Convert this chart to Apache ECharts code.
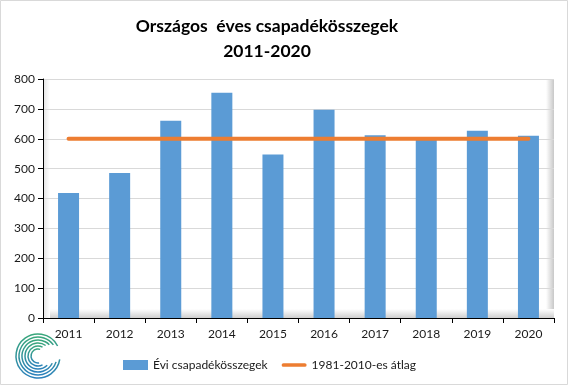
<!DOCTYPE html>
<html><head><meta charset="utf-8">
<script src="https://cdn.jsdelivr.net/npm/echarts@6/dist/echarts.min.js"></script>
<style>html,body{margin:0;padding:0;background:#fff}#c{width:569px;height:386px}</style>
</head><body><div id="c"></div>
<script>
const categories = ['2011','2012','2013','2014','2015','2016','2017','2018','2019','2020'];
const annualTotals = [418, 485, 660, 754, 547, 697, 612, 598, 627, 610];
const averageValues = [600, 600, 600, 600, 600, 600, 600, 600, 600, 600];
const seriesNames = ['Évi csapadékösszegek', '1981-2010-es átlag'];
const titleLines = ['Országos  éves csapadékösszegek', '2011-2020'];

const FONT = 'Lato, "Open Sans", sans-serif';
const chart = echarts.init(document.getElementById('c'));

function arc(r, s, e, w){
  return {type:'arc', z:10, shape:{cx:38, cy:356, r:r, startAngle:s, endAngle:e, clockwise:true},
    style:{fill:null, lineWidth:w,
      stroke:new echarts.graphic.LinearGradient(0,0,0,1,[{offset:0,color:'#3aa977'},{offset:1,color:'#2b7fc0'}])}};
}

chart.setOption({
  animation:false,
  title:{text:titleLines.join('\n'), left:262, textAlign:'center', top:9,
    textStyle:{fontFamily:FONT, fontSize:17.5, fontWeight:'bold', color:'#000', lineHeight:25}},
  grid:{left:43, right:15, top:79, bottom:68},
  legend:{left:118, top:354, itemGap:14, itemWidth:25, itemHeight:10,
    textStyle:{fontFamily:FONT, fontSize:12, color:'#1a1a1a'},
    data:[{name:seriesNames[0], icon:'rect'},
          {name:seriesNames[1], icon:'path://M2,0 L25,0 A2,2 0 0 1 25,4 L2,4 A2,2 0 0 1 2,0 Z'}]},
  graphic:[
    {type:'rect', z:-10, shape:{x:0.5,y:0.5,width:567,height:384}, style:{fill:'#fff', stroke:'#d9d9d9', lineWidth:1}},
    {type:'rect', z:-5, shape:{x:546,y:79,width:8,height:239},
      style:{fill:new echarts.graphic.LinearGradient(0,0,1,0,[{offset:0,color:'#ffffff'},{offset:1,color:'#c8c8c8'}])}},
    {type:'rect', z:-5, shape:{x:43,y:309,width:511,height:9},
      style:{fill:new echarts.graphic.LinearGradient(0,0,0,1,[{offset:0,color:'#ffffff'},{offset:1,color:'#cfcfcf'}])}},
    {type:'rect', z:-5, shape:{x:44,y:79,width:6,height:239},
      style:{fill:new echarts.graphic.LinearGradient(0,0,1,0,[{offset:0,color:'#e6e6e6'},{offset:1,color:'#ffffff'}])}},
    arc(22, Math.PI*0.05, Math.PI*1.85, 1.5),
    arc(19, Math.PI*0.10, Math.PI*1.80, 1.5),
    arc(16, Math.PI*0.15, Math.PI*1.75, 1.5),
    arc(13, Math.PI*0.25, Math.PI*1.70, 1.5),
    arc(10, Math.PI*0.35, Math.PI*1.65, 1.5),
    arc(7, Math.PI*0.45, Math.PI*1.60, 1.5)
  ],
  xAxis:{type:'category', data:categories, boundaryGap:true,
    axisLine:{lineStyle:{color:'#000', width:1}},
    axisTick:{show:true, length:5, lineStyle:{color:'#000'}},
    axisLabel:{fontFamily:FONT, fontSize:12, color:'#1a1a1a', margin:10},
    splitLine:{show:false}},
  yAxis:{type:'value', min:0, max:800, interval:100,
    axisLine:{show:true, lineStyle:{color:'#000', width:1}},
    axisTick:{show:true, length:5, lineStyle:{color:'#000'}},
    axisLabel:{fontFamily:FONT, fontSize:12, color:'#1a1a1a', margin:8},
    splitLine:{lineStyle:{color:'#d9d9d9', width:1}}},
  series:[
    {name:seriesNames[0], type:'bar', data:annualTotals, barWidth:21,
      itemStyle:{color:'#5b9bd5'}},
    {name:seriesNames[1], type:'line', data:averageValues, symbol:'none', z:5,
      lineStyle:{color:'#ed7d31', width:4, cap:'round'}, itemStyle:{color:'#ed7d31'}}
  ]
});
</script></body></html>
